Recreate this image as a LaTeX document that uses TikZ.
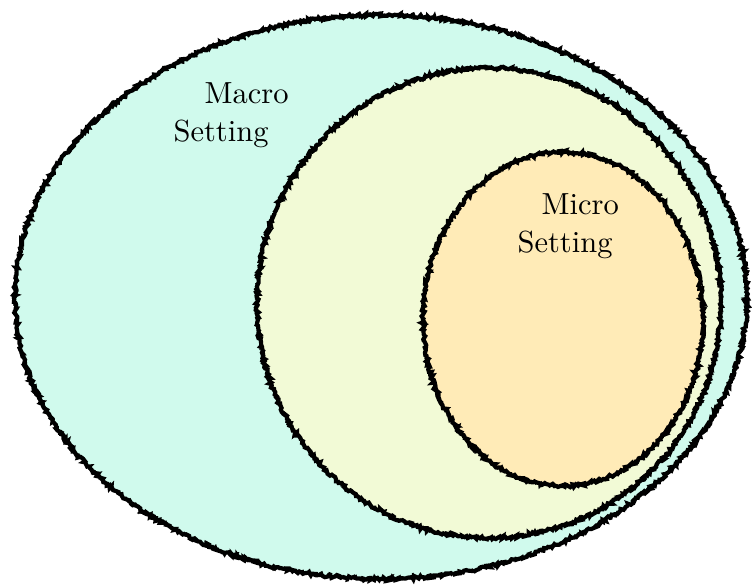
\documentclass[tikz,border=0pt]{standalone}
\usetikzlibrary{decorations.pathmorphing}
\definecolor{macrofill}{RGB}{208,250,237}
\definecolor{mesofill}{RGB}{242,250,214}
\definecolor{microfill}{RGB}{255,235,183}
\begin{document}
\begin{tikzpicture}[x=1pt,y=-1pt,
  sketch/.style={draw=black, line width=4.2pt, line join=miter, miter limit=3,
    decorate, decoration={random steps, segment length=1.3pt, amplitude=1.5pt}},
  lbl/.style={anchor=north west, inner sep=0pt, align=left, scale=3.05,
    font=\fontsize{10}{12.5}\selectfont}]
\pgfmathsetseed{7}
\useasboundingbox (0,0) rectangle (752,586);
% outer (macro)
\fill[macrofill] (381,297) ellipse [x radius=366pt, y radius=282pt];
\path[sketch] (381,297) ellipse [x radius=366pt, y radius=282pt];
% middle
\fill[mesofill] (489,303) ellipse [x radius=232pt, y radius=235pt];
\path[sketch] (489,303) ellipse [x radius=232pt, y radius=235pt];
% inner (micro)
\fill[microfill] (563,319) ellipse [x radius=140pt, y radius=167pt];
\path[sketch] (563,319) ellipse [x radius=140pt, y radius=167pt];
% labels
\node[lbl] (macro) at (173,82) {\hspace*{10.2pt}Macro\\Setting};
\node[lbl] (micro) at (517,193) {\hspace*{7.9pt}Micro\\Setting};
\end{tikzpicture}
\end{document}
